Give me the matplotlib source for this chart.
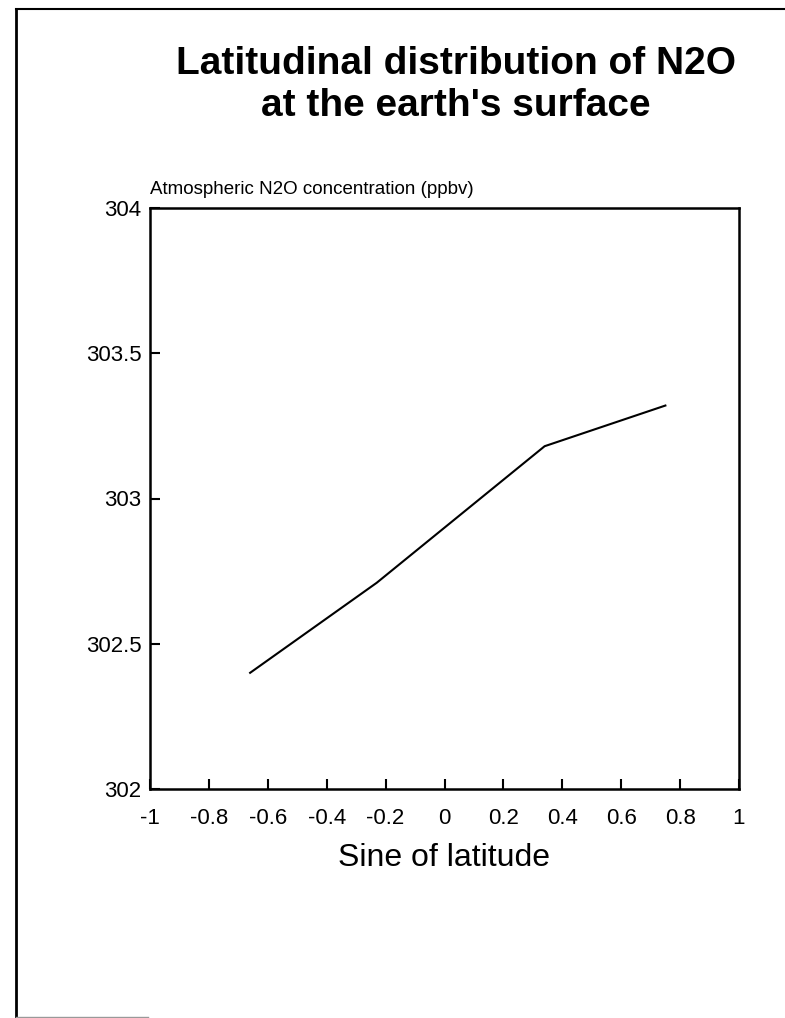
import numpy as np
import matplotlib
matplotlib.use("Agg")
from matplotlib import pyplot as plt
from matplotlib.lines import Line2D

# values
sine_lat = [-0.66, -0.23, 0.34, 0.75]
n2o_ppbv = [302.40, 302.71, 303.18, 303.32]

xticks = [-1, -0.8, -0.6, -0.4, -0.2, 0, 0.2, 0.4, 0.6, 0.8, 1]
xticklabels = ["-1", "-0.8", "-0.6", "-0.4", "-0.2", "0", "0.2", "0.4", "0.6", "0.8", "1"]
yticks = [302, 302.5, 303, 303.5, 304]
yticklabels = ["302", "302.5", "303", "303.5", "304"]

plt.rcParams["font.family"] = ["Liberation Sans", "DejaVu Sans"]
plt.rcParams["axes.unicode_minus"] = False

W, H = 785, 1018
fig = plt.figure(figsize=(W / 100, H / 100), dpi=100)

# page frame lines of the scan
fig.add_artist(Line2D([16 / W, 1], [1 - 9 / H, 1 - 9 / H], color="black", lw=1.5))
fig.add_artist(Line2D([16 / W, 16 / W], [1 - 9 / H, 1 - 1017 / H], color="black", lw=2))
fig.add_artist(Line2D([16 / W, 148 / W], [1 - 1016.5 / H, 1 - 1016.5 / H], color="#999999", lw=1))

fig.text(456 / W, 1 - 85 / H, "Latitudinal distribution of N2O\nat the earth's surface",
         ha="center", va="center", fontsize=28, fontweight="bold", linespacing=1.2)

ax = fig.add_axes([150 / W, 1 - 789 / H, (739 - 150) / W, (789 - 208) / H])
ax.plot(sine_lat, n2o_ppbv, color="black", lw=1.5)

ax.set_xlim(-1, 1)
ax.set_ylim(302, 304)
ax.set_xticks(xticks)
ax.set_xticklabels(xticklabels)
ax.set_yticks(yticks)
ax.set_yticklabels(yticklabels)
ax.tick_params(axis="x", direction="in", length=7, width=1.5, pad=14, labelsize=16)
ax.tick_params(axis="y", direction="in", length=7, width=1.5, pad=6, labelsize=16)
for s in ax.spines.values():
    s.set_linewidth(1.8)

ax.text(0, 1.018, "Atmospheric N2O concentration (ppbv)", transform=ax.transAxes,
        ha="left", va="bottom", fontsize=13.5)
ax.set_xlabel("Sine of latitude", fontsize=23, labelpad=10)

fig.savefig("out.png", dpi=100)
